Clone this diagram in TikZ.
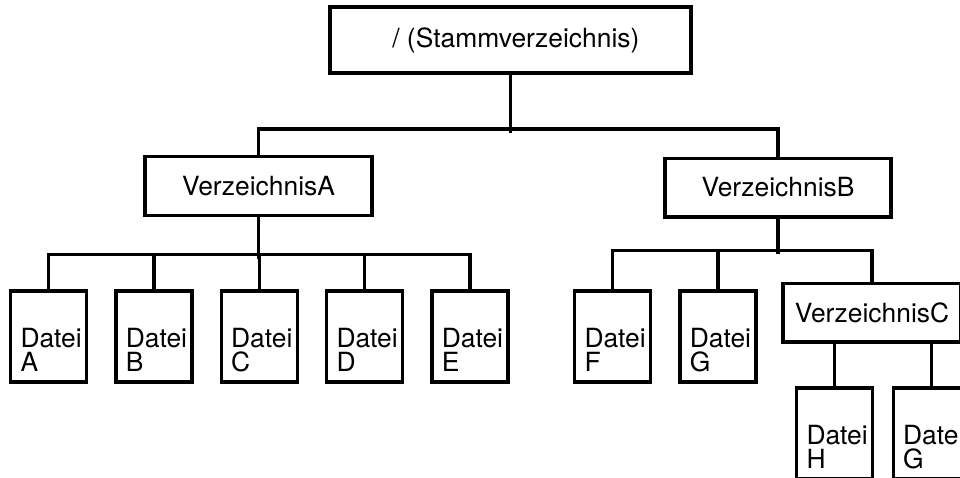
\documentclass[tikz,border=0pt]{standalone}
\usepackage{fontspec}
\setmainfont{TeX Gyre Heros}
\usetikzlibrary{positioning}
\newcommand{\datei}[1]{\parbox[c][53pt][b]{42pt}{Datei\\#1}}

\begin{document}
\begin{tikzpicture}[x=0.75pt,y=-0.75pt,
  node distance=19.5pt,
  dir/.style={draw,line width=2.5pt,inner sep=0pt,minimum height=44pt,font=\fontsize{19.8}{18}\selectfont},
  file/.style={draw,line width=2.5pt,inner sep=0pt,minimum width=57pt,minimum height=68.25pt,font=\fontsize{19.8}{18}\selectfont},
  conn/.style={line width=2.5pt}]
\useasboundingbox (0,0) rectangle (960,478);
\clip (0,0) rectangle (960,478);
% directories
\node[dir,minimum width=270.75pt,minimum height=49.5pt] (root) at (510.5,40) {\hspace{8pt}/ (Stammverzeichnis)};
\node[dir,minimum width=170.25pt] (verzA) at (258.5,186) {VerzeichnisA};
\node[dir,minimum width=169.5pt] (verzB) at (778,187.5) {VerzeichnisB};
\node[dir,minimum width=133.5pt] (verzC) at (872,312.5) {VerzeichnisC};
% files below VerzeichnisA
\node[file] (fA) at (48.5,336.5) {\datei{A}};
\node[file,right=of fA] (fB) {\datei{B}};
\node[file,right=of fB] (fC) {\datei{C}};
\node[file,right=of fC] (fD) {\datei{D}};
\node[file,right=of fD] (fE) {\datei{E}};
% files below VerzeichnisB and VerzeichnisC
\node[file] (fF) at (612.5,336.5) {\datei{F}};
\node[file,right=of fF] (fG) {\datei{G}};
\node[file] (fH) at (834.5,433.5) {\datei{H}};
\node[file,right=13pt of fH] (fG2) {\datei{G}};
% tree lines
\draw[conn] (root.south) -- ++(0,58);
\draw[conn] (verzA.north) -- ++(0,-26) -| (verzB.north);
\draw[conn] (verzA.south) -- ++(0,42);
\draw[conn] (fA.north) -- ++(0,-35) -| (fE.north);
\foreach \f in {fB,fC,fD} \draw[conn] (\f.north) -- ++(0,-35);
\draw[conn] (verzB.south) -- ++(0,35);
\draw[conn] (fF.north) -- ++(0,-39) -| (verzC.north);
\draw[conn] (fG.north) -- ++(0,-39);
\draw[conn] (fH.north) -- (fH.north |- verzC.south);
\draw[conn] (fG2.north) -- (fG2.north |- verzC.south);
\end{tikzpicture}
\end{document}
